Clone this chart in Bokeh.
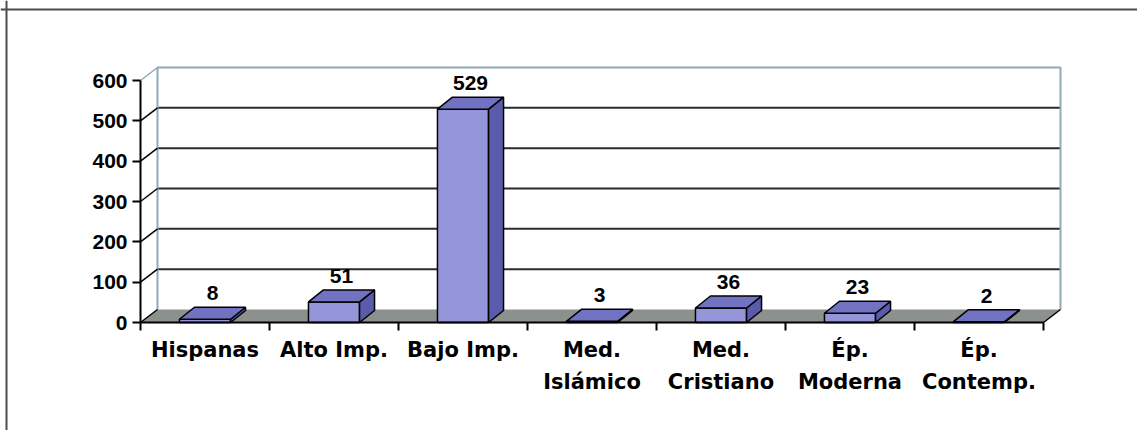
from bokeh.plotting import figure
from bokeh.models import Range1d, LinearAxis, FixedTicker, Span, ColumnDataSource
from bokeh.core.properties import value
from bokeh.embed import file_html
from bokeh.resources import INLINE

# ---------------- data ----------------
CATEGORIES = ["Hispanas", "Alto Imp.", "Bajo Imp.", "Med.\nIslámico",
              "Med.\nCristiano", "Ép.\nModerna", "Ép.\nContemp."]
COUNTS = [8, 51, 529, 3, 36, 23, 2]
Y_TICKS = [0, 100, 200, 300, 400, 500, 600]

# ---------------- layout constants ----------------
W, H = 1137, 430
SLOT_PX = 129.0          # pixels per category slot
UNIT_PX = 0.4033         # pixels per value unit
ORIGIN_X = 140.0         # canvas x of the front value axis
ORIGIN_Y = 322.0         # canvas y of the front baseline
n = len(COUNTS)
Y_MAX = max(Y_TICKS)

FDX, FDY = 17 / SLOT_PX, 13 / UNIT_PX     # floor / wall depth
BDX, BDY = 15 / SLOT_PX, 12 / UNIT_PX     # bar depth
HW = 0.198                                # half bar width (slot units)

FRONT = "#9595da"
TOP = "#7272c2"
SIDE = "#5b5bab"
FLOOR = "#8d918d"
WALL = "#90a8b8"
GRID = "#2b2b2b"

x_range = Range1d(-ORIGIN_X / SLOT_PX, (W - ORIGIN_X) / SLOT_PX)
y_range = Range1d(-(H - ORIGIN_Y) / UNIT_PX, ORIGIN_Y / UNIT_PX)

p = figure(width=W, height=H, x_range=x_range, y_range=y_range,
           x_axis_type=None, y_axis_type=None, toolbar_location=None,
           output_backend="svg", min_border=0, outline_line_color=None,
           background_fill_color="white", border_fill_color="white")

# outer frame (top and left)
p.add_layout(Span(location=x_range.start + 6 / SLOT_PX, dimension="height",
                  line_color="#4d4d4d", line_width=2))
p.add_layout(Span(location=y_range.end - 9 / UNIT_PX, dimension="width",
                  line_color="#4d4d4d", line_width=2))

# back wall gridlines
inner = [t for t in Y_TICKS if 0 < t < Y_MAX]
p.segment(x0=[FDX] * len(inner), y0=[t + FDY for t in inner],
          x1=[n + FDX] * len(inner), y1=[t + FDY for t in inner],
          line_color=GRID, line_width=2)
# back wall outline
p.line([FDX, FDX, n + FDX, n + FDX], [FDY, Y_MAX + FDY, Y_MAX + FDY, FDY],
       line_color=WALL, line_width=2)

# floor
p.patch([0, n, n + FDX, FDX], [0, 0, FDY, FDY], fill_color=FLOOR,
        line_color=None)
p.segment(x0=[n], y0=[0], x1=[n + FDX], y1=[FDY], line_color="black",
          line_width=1.5)

# side-wall diagonals from the value axis ticks
diag_colors = ["black" if t < Y_MAX else WALL for t in Y_TICKS]
p.segment(x0=[0] * len(Y_TICKS), y0=Y_TICKS, x1=[FDX] * len(Y_TICKS),
          y1=[t + FDY for t in Y_TICKS], line_color=diag_colors, line_width=1.5)

# bars
centers = [i + 0.5 for i in range(n)]
src = ColumnDataSource(dict(
    left=[c - HW for c in centers], right=[c + HW for c in centers],
    top=COUNTS, bottom=[0] * n,
    top_xs=[[c - HW, c + HW, c + HW + BDX, c - HW + BDX] for c in centers],
    top_ys=[[v, v, v + BDY, v + BDY] for v in COUNTS],
    side_xs=[[c + HW, c + HW + BDX, c + HW + BDX, c + HW] for c in centers],
    side_ys=[[0, BDY, v + BDY, v] for v in COUNTS],
    lx=[c + BDX / 2 for c in centers], ly=[v + BDY for v in COUNTS],
    label=[str(v) for v in COUNTS],
))
p.quad(left="left", right="right", top="top", bottom="bottom", source=src,
       fill_color=FRONT, line_color="black", line_width=1.5)
p.patches("side_xs", "side_ys", source=src, fill_color=SIDE,
          line_color="black", line_width=1.5)
p.patches("top_xs", "top_ys", source=src, fill_color=TOP,
          line_color="black", line_width=1.5)
p.text(x="lx", y="ly", text="label", source=src, text_align="center",
       text_baseline="bottom", y_offset=-7,
       text_font=value("Liberation Sans"), text_font_style="bold",
       text_font_size="21px", text_color="black")

# value axis (front)
yaxis = LinearAxis(fixed_location=0, bounds=(0, Y_MAX),
                   ticker=FixedTicker(ticks=Y_TICKS),
                   major_tick_out=8, major_tick_in=0,
                   minor_tick_out=0, minor_tick_in=0,
                   axis_line_width=2, major_tick_line_width=2,
                   major_label_standoff=5,
                   major_label_text_font="Liberation Sans",
                   major_label_text_font_style="bold",
                   major_label_text_font_size="21px",
                   major_label_text_color="black")
p.add_layout(yaxis, "left")

# category axis (front baseline, ticks at slot boundaries)
xaxis = LinearAxis(fixed_location=0, bounds=(0, n),
                   ticker=FixedTicker(ticks=list(range(n + 1))),
                   major_tick_out=8, major_tick_in=0,
                   minor_tick_out=0, minor_tick_in=0,
                   axis_line_width=2, major_tick_line_width=2,
                   major_label_text_color=None)
p.add_layout(xaxis, "below")

line1 = [c.split("\n")[0] for c in CATEGORIES]
line2 = [c.split("\n")[1] if "\n" in c else "" for c in CATEGORIES]


def label_axis(labels, standoff):
    idx = [i for i, s in enumerate(labels) if s]
    ax = LinearAxis(fixed_location=0,
                    ticker=FixedTicker(ticks=[centers[i] for i in idx]),
                    major_label_overrides={centers[i]: labels[i] for i in idx},
                    axis_line_color=None, major_tick_line_color=None,
                    major_tick_out=0, major_tick_in=0,
                    minor_tick_out=0, minor_tick_in=0,
                    major_label_standoff=standoff,
                    major_label_text_font="DejaVu Sans",
                    major_label_text_font_style="bold",
                    major_label_text_font_size="21px",
                    major_label_text_color="black")
    p.add_layout(ax, "below")


label_axis(line1, 15)
label_axis(line2, 47)

open("out.html", "w").write(file_html(p, INLINE))
